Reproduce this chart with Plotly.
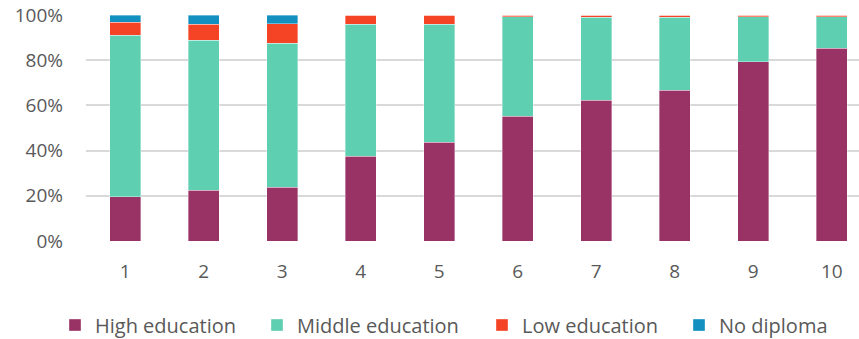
import plotly.graph_objects as go

categories = [1, 2, 3, 4, 5, 6, 7, 8, 9, 10]
high = [19.5, 22.5, 23.8, 37.5, 43.8, 55.3, 62.3, 66.8, 79.3, 85.3]
middle = [71.5, 66.4, 63.8, 58.5, 52.2, 44.0, 36.6, 32.3, 20.0, 14.0]
low = [5.8, 7.1, 8.6, 4.0, 4.0, 0.7, 1.1, 0.9, 0.7, 0.7]
none = [3.2, 4.0, 3.8, 0.0, 0.0, 0.0, 0.0, 0.0, 0.0, 0.0]
y_ticks = [0, 20, 40, 60, 80, 100]
y_labels = ["0%", "20%", "40%", "60%", "80%", "100%"]

series = [
    ("High education", high, "#993366", "legend", 93),
    ("Middle education", middle, "#5ECFB1", "legend2", 295),
    ("Low education", low, "#F44325", "legend3", 520),
    ("No diploma", none, "#1390C0", "legend4", 717),
]

font = "Open Sans"
grey = "#595959"
fig = go.Figure()
for name, vals, col, lg, _ in series:
    fig.add_trace(go.Bar(x=categories, y=vals, name=name, legend=lg,
                         marker=dict(color=col, line=dict(width=0.6, color="rgba(255,255,255,0.6)"))))

L, R = 86, 859
legends = {}
for name, vals, col, lg, px in series:
    legends[lg] = dict(orientation="h", x=(px - 38 - L) / (R - L), xanchor="left",
                       y=(339 - 325) / 339, yref="container", yanchor="middle",
                       font=dict(family=font, size=20, color=grey),
                       itemwidth=30, bgcolor="rgba(0,0,0,0)")

fig.update_layout(
    barmode="stack",
    bargap=0.6,
    width=859, height=339,
    margin=dict(l=L, r=0, t=15, b=98, autoexpand=False),
    plot_bgcolor="white", paper_bgcolor="white",
    font=dict(family=font, size=19, color=grey),
    xaxis=dict(range=[0.5, 10.347], tickvals=categories, showgrid=False, zeroline=False,
               showline=False, ticks="", ticklabelstandoff=17),
    yaxis=dict(range=[0, 100], tickvals=y_ticks, ticktext=y_labels,
               showgrid=True, gridcolor="#D9D9D9", gridwidth=1.6, zeroline=False,
               ticks="", ticklabelstandoff=22),
    showlegend=True,
    **legends,
)
fig.write_html("out.html")
